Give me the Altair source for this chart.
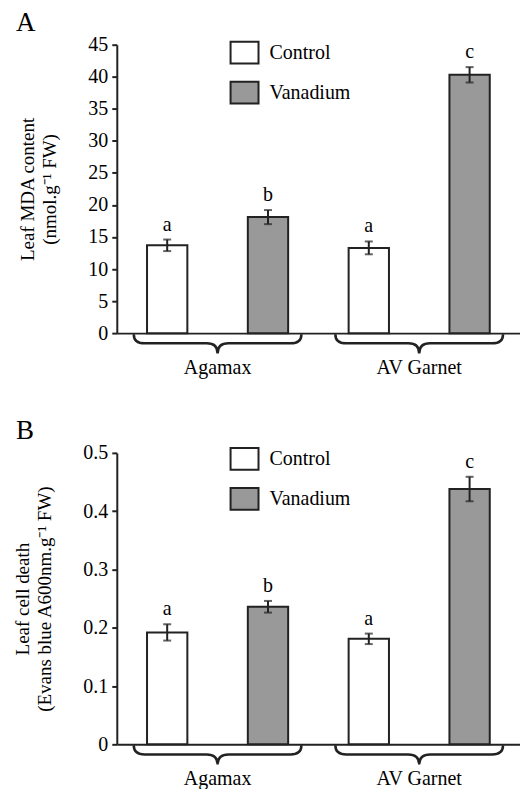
import altair as alt
import pandas as pd

genotypes = ["Agamax", "AV Garnet"]
treatments = ["Control", "Vanadium"]

# Panel A: Leaf MDA content
mda_mean = [13.7, 18.1, 13.3, 40.3]
mda_err = [0.9, 1.1, 1.0, 1.2]
mda_letters = ["a", "b", "a", "c"]

# Panel B: Leaf cell death
death_mean = [0.192, 0.236, 0.181, 0.438]
death_err = [0.014, 0.010, 0.009, 0.021]
death_letters = ["a", "b", "a", "c"]

mda_ticks = [0, 5, 10, 15, 20, 25, 30, 35, 40, 45]
death_ticks = [0, 0.1, 0.2, 0.3, 0.4, 0.5]

FONT = "Liberation Serif"
INK = "#222222"
BRACE = "M -1 0 Q -1 0.11 -0.87 0.11 L -0.13 0.11 Q 0 0.11 0 0.23 Q 0 0.11 0.13 0.11 L 0.87 0.11 Q 1 0.11 1 0"
RECT = "M -1 -0.78 L 1 -0.78 L 1 0.78 L -1 0.78 Z"


def make_df(means, errs, letters):
    rows = []
    i = 0
    for g in genotypes:
        for t in treatments:
            rows.append({"genotype": g, "treatment": t, "mean": means[i],
                         "lo": means[i] - errs[i], "hi": means[i] + errs[i],
                         "letter": letters[i]})
            i += 1
    return pd.DataFrame(rows)


def panel(df, ticks, ymax, title_lines, label, height, fmt_expr, legend_y):
    x_enc = alt.X("genotype:N", sort=genotypes,
                  scale=alt.Scale(paddingInner=0, paddingOuter=0),
                  axis=alt.Axis(title=None, labelAngle=0, ticks=False,
                                domainColor=INK, domainWidth=2,
                                labelFont=FONT, labelFontSize=20,
                                labelColor="black", labelPadding=24))
    xo = alt.XOffset("treatment:N", sort=treatments,
                     scale=alt.Scale(paddingInner=0.6, paddingOuter=0.3))
    yscale = alt.Scale(domain=[0, ymax], nice=False, zero=True)
    y_axis = alt.Axis(values=[float(v) for v in ticks], grid=False, tickSize=5,
                      tickColor=INK, tickWidth=2, domainColor=INK, domainWidth=2,
                      labelFont=FONT, labelFontSize=20, labelColor="black",
                      labelPadding=4, labelExpr=fmt_expr, labelOverlap=False,
                      labelFlush=False,
                      title=title_lines, titleFont=FONT, titleFontSize=19,
                      titleFontWeight="normal", titleColor="black",
                      titlePadding=28, titleLineHeight=22)

    def Y(field):
        return alt.Y(field, type="quantitative", scale=yscale, axis=y_axis)

    base = alt.Chart(df)
    bars = base.mark_bar(stroke=INK, strokeWidth=2).encode(
        x=x_enc, xOffset=xo,
        y=Y("mean"),
        fill=alt.Fill("treatment:N", sort=treatments,
                      scale=alt.Scale(domain=treatments, range=["white", "#999999"]),
                      legend=alt.Legend(title=None, orient="none", legendX=113,
                                        legendY=legend_y, symbolType=RECT,
                                        symbolSize=784, symbolStrokeColor=INK,
                                        symbolStrokeWidth=2, labelFont=FONT,
                                        labelFontSize=20, labelColor="black",
                                        labelOffset=10, rowPadding=10)),
    )
    rules = base.mark_rule(color=INK, strokeWidth=2).encode(
        x=x_enc, xOffset=xo, y=Y("lo"), y2="hi:Q")
    caps_hi = base.mark_tick(color=INK, size=8, thickness=2).encode(
        x=x_enc, xOffset=xo, y=Y("hi"))
    caps_lo = base.mark_tick(color=INK, size=8, thickness=2).encode(
        x=x_enc, xOffset=xo, y=Y("lo"))
    letters = base.mark_text(font=FONT, fontSize=20, baseline="bottom",
                             dy=-5, color="black").encode(
        x=x_enc, xOffset=xo, y=Y("hi"), text="letter:N")
    braces = alt.Chart(pd.DataFrame({"genotype": genotypes})).mark_point(
        shape=BRACE, size=28224, filled=False, stroke=INK, strokeWidth=2.5,
        opacity=1).encode(x=x_enc, y=alt.value(height + 1))

    return alt.layer(bars, rules, caps_hi, caps_lo, letters, braces).properties(
        width=404, height=height,
        title=alt.TitleParams(label, anchor="start", frame="group", dx=-101,
                              font=FONT, fontSize=27, fontWeight="normal",
                              color="black", offset=-2))


dfA = make_df(mda_mean, mda_err, mda_letters)
dfB = make_df(death_mean, death_err, death_letters)

chartA = panel(dfA, mda_ticks, 45, ["Leaf MDA content", "(nmol.g⁻¹ FW)"], "A", 289,
               "format(datum.value, 'd')", -7)
chartB = panel(dfB, death_ticks, 0.5,
               ["Leaf cell death", "(Evans blue A600nm.g⁻¹ FW)"], "B", 292,
               "datum.value == 0 ? '0' : format(datum.value, '.1f')", -9)

chart = alt.vconcat(chartA, chartB, spacing=40).resolve_scale(
    fill="independent").configure_view(stroke=None).properties(
    padding={"left": 6, "right": 0, "top": 0, "bottom": 0},
    background="white")

chart.save("out.html", embed_options={"renderer": "svg", "actions": False})
